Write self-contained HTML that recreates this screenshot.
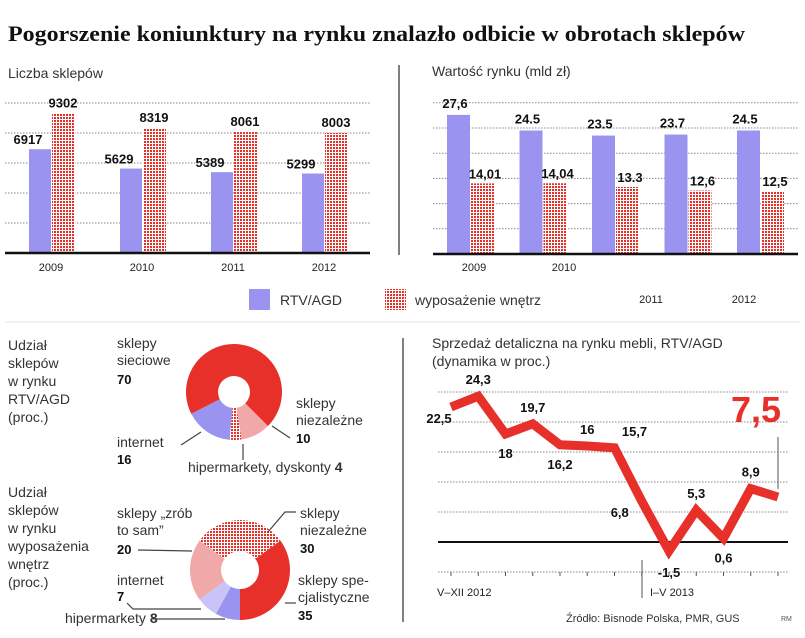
<!DOCTYPE html>
<html><head><meta charset="utf-8">
<style>
html,body{margin:0;padding:0;background:#fff;}
svg{display:block;font-family:"Liberation Sans",sans-serif;}
.t{font-size:14px;fill:#333;}
.b{font-weight:bold;font-size:13px;fill:#111;}
.y{font-size:11px;fill:#222;}
</style></head><body>
<svg id="s" width="805" height="638" viewBox="0 0 805 638">
<defs>
<pattern id="dots" width="3" height="3" patternUnits="userSpaceOnUse">
<rect width="3" height="3" fill="#fff"/><rect width="2" height="2" fill="#e8302a"/>
</pattern>
</defs>
<text x="8" y="41" font-family="Liberation Serif,serif" font-weight="bold" font-size="22" fill="#111" textLength="737" lengthAdjust="spacingAndGlyphs">Pogorszenie koniunktury na rynku znalazło odbicie w obrotach sklepów</text>
<text x="8" y="78" class="t">Liczba sklepów</text>
<text x="432" y="76" class="t">Wartość rynku (mld zł)</text>
<line x1="399" y1="65" x2="399" y2="255" stroke="#555" stroke-width="1.5"/>
<line x1="5" y1="322" x2="800" y2="322" stroke="#e4e4e4" stroke-width="1"/>
<line x1="403" y1="338" x2="403" y2="622" stroke="#555" stroke-width="1.5"/>
<g id="g1"></g><g id="g2"></g><g id="g3"></g><g id="g4"></g>
<rect x="249" y="289" width="21" height="21" fill="#9b93f0"/>
<text x="280" y="305" class="t">RTV/AGD</text>
<rect x="385" y="289" width="21" height="21" fill="url(#dots)"/>
<text x="415" y="305" class="t">wyposażenie wnętrz</text>
<g class="t">
<text x="8" y="350">Udział</text><text x="8" y="368">sklepów</text><text x="8" y="386">w rynku</text><text x="8" y="404">RTV/AGD</text><text x="8" y="422">(proc.)</text></g>
<g class="t">
<text x="8" y="497">Udział</text><text x="8" y="515">sklepów</text><text x="8" y="533">w rynku</text><text x="8" y="551">wyposażenia</text><text x="8" y="569">wnętrz</text><text x="8" y="587">(proc.)</text></g>
<g class="t">
<text x="117" y="348">sklepy</text><text x="117" y="365">sieciowe</text><text x="117" y="384" class="b">70</text>
<text x="296" y="408">sklepy</text><text x="296" y="425">niezależne</text><text x="296" y="443" class="b">10</text>
<text x="117" y="447">internet</text><text x="117" y="464" class="b">16</text>
<text x="188" y="472">hipermarkety, dyskonty <tspan font-weight="bold">4</tspan></text>
</g>
<g fill="none" stroke="#444" stroke-width="1.2">
<path d="M181 445 L201 432"/><path d="M290 438 L272 426"/><path d="M243 460 L243 444"/></g>
<g class="t">
<text x="117" y="518">sklepy „zrób</text><text x="117" y="535">to sam”</text><text x="117" y="554" class="b">20</text>
<text x="300" y="518">sklepy</text><text x="300" y="535">niezależne</text><text x="300" y="553" class="b">30</text>
<text x="117" y="585">internet</text><text x="117" y="601" class="b">7</text>
<text x="65" y="623">hipermarkety <tspan font-weight="bold">8</tspan></text>
<text x="298" y="585">sklepy spe-</text><text x="298" y="602">cjalistyczne</text><text x="298" y="620" class="b">35</text>
</g>
<g fill="none" stroke="#444" stroke-width="1.2">
<path d="M138 550 L192 551"/><path d="M296 512 L285 512 L268 532"/><path d="M127 603 L133 609 L201 609"/><path d="M153 619 L225 619"/><path d="M296 603 L285 603"/></g>
<text x="432" y="348" class="t">Sprzedaż detaliczna na rynku mebli, RTV/AGD</text>
<text x="432" y="366" class="t">(dynamika w proc.)</text>
<text x="437" y="596" class="y" font-size="12">V–XII 2012</text>
<text x="650" y="596" class="y" font-size="12">I–V 2013</text>
<line x1="642" y1="560" x2="642" y2="598" stroke="#555" stroke-width="1"/>
<text x="566" y="622" font-size="11" fill="#333">Źródło: Bisnode Polska, PMR, GUS</text>
<text x="781" y="621" font-size="7" fill="#555">RM</text>
</svg>
<script>
const NS='http://www.w3.org/2000/svg';
function mk(p,tag,a){const e=document.createElementNS(NS,tag);for(const k in a)e.setAttribute(k,a[k]);p.appendChild(e);return e;}
const c1Years=['2009','2010','2011','2012'];
const c1Rtv=[6917,5629,5389,5299];
const c1Wyp=[9302,8319,8061,8003];
const c1Grid=[2000,4000,6000,8000,10000];
const c2Rtv=[27.6,24.5,23.5,23.7,24.5];
const c2Wyp=[14.01,14.04,13.3,12.6,12.5];
const c2Lbl=['27,6','24.5','23.5','23.7','24.5'];
const c2WLbl=['14,01','14,04','13.3','12,6','12,5'];
const c2Grid=[5,10,15,20,25,30];
const c2Years=['2009','2010','2011','2012'];
const p1Vals=[10,4,16,70];
const p1Names=['niezalezne','hipermarkety','internet','sieciowe'];
const p2Vals=[35,8,7,20,30];
const p2Names=['specjalistyczne','hipermarkety','internet','zrob-to-sam','niezalezne'];
const lnVals=[22.5,24.3,18,19.7,16.2,16,15.7,6.8,-1.5,5.3,0.6,8.9,7.5];
const lnLbls=['22,5','24,3','18','19,7','16,2','16','15,7','6,8','-1,5','5,3','0,6','8,9',''];
const lnGrid=[5,10,15,20,25];

const g1=document.getElementById('g1');
const y1=v=>253-v*0.015;
c1Grid.forEach(v=>{const l=mk(g1,'line',{x1:5,x2:370,y1:y1(v),y2:y1(v),stroke:'#888','stroke-dasharray':'1.5 1.5'});

});
c1Years.forEach((yr,i)=>{const x=29+i*91;
const r=mk(g1,'rect',{x:x,y:y1(c1Rtv[i]),width:22,height:253-y1(c1Rtv[i]),fill:'#9b93f0'});


const w=mk(g1,'rect',{x:x+23,y:y1(c1Wyp[i]),width:23,height:253-y1(c1Wyp[i]),fill:'url(#dots)'});


const t1=mk(g1,'text',{x:x-1,y:y1(c1Rtv[i])-5,'text-anchor':'middle',class:'b'});t1.textContent=c1Rtv[i];


const t2=mk(g1,'text',{x:x+34,y:y1(c1Wyp[i])-6,'text-anchor':'middle',class:'b'});t2.textContent=c1Wyp[i];


const t3=mk(g1,'text',{x:x+22,y:271,'text-anchor':'middle',class:'y'});t3.textContent=yr;

});
const b1=mk(g1,'line',{x1:5,x2:370,y1:253,y2:253,stroke:'#111','stroke-width':2.5});



const g2=document.getElementById('g2');
const y2=v=>254-v*5.04;
c2Grid.forEach(v=>{const l=mk(g2,'line',{x1:433,x2:798,y1:y2(v),y2:y2(v),stroke:'#888','stroke-dasharray':'1.5 1.5'});

});
c2Rtv.forEach((v,i)=>{const x=447+i*72.5;
const r=mk(g2,'rect',{x:x,y:y2(v),width:23,height:254-y2(v),fill:'#9b93f0'});


const w=mk(g2,'rect',{x:x+24,y:y2(c2Wyp[i]),width:23,height:254-y2(c2Wyp[i]),fill:'url(#dots)'});


const t1=mk(g2,'text',{x:x+8,y:y2(v)-7,'text-anchor':'middle',class:'b'});t1.textContent=c2Lbl[i];


const t2=mk(g2,'text',{x:x+38,y:y2(c2Wyp[i])-5,'text-anchor':'middle',class:'b'});t2.textContent=c2WLbl[i];

});
[[474,271],[564,271],[651,303],[744,303]].forEach((p,i)=>{const t=mk(g2,'text',{x:p[0],y:p[1],'text-anchor':'middle',class:'y'});t.textContent=c2Years[i];

});
const b2=mk(g2,'line',{x1:433,x2:798,y1:254,y2:254,stroke:'#111','stroke-width':2.5});



function donut(g,cx,cy,R,r,vals,start,fills,names,prefix){
 const tot=vals.reduce((a,b)=>a+b,0);let a=start;
 vals.forEach((v,i)=>{const a2=a+v/tot*360;
  const P=(ang,rad)=>{const t=(ang-90)*Math.PI/180;return [cx+rad*Math.cos(t),cy+rad*Math.sin(t)];};
  const la=(a2-a)>180?1:0;const p1=P(a,R),p2=P(a2,R),p3=P(a2,r),p4=P(a,r);
  const e=mk(g,'path',{d:`M${p1} A${R} ${R} 0 ${la} 1 ${p2} L${p3} A${r} ${r} 0 ${la} 0 ${p4}Z`,fill:fills[i]});
  
  
  a=a2;});
}
donut(document.getElementById('g3'),234,392,48,16,p1Vals,135,['#f0a8a8','url(#dots)','#9b93f0','#e8302a'],p1Names,'pie1');
donut(document.getElementById('g3'),240,570,50,19,p2Vals,54,['#e8302a','#9b93f0','#c8c4f8','#f0a8a8','url(#dots)'],p2Names,'pie2');

const g4=document.getElementById('g4');
const ly=v=>542-v*6;const lx=i=>451+i*27.25;
lnGrid.forEach(v=>{const l=mk(g4,'line',{x1:438,x2:788,y1:ly(v),y2:ly(v),stroke:'#888','stroke-dasharray':'1.5 1.5'});

});
const bl=mk(g4,'line',{x1:438,x2:788,y1:572,y2:572,stroke:'#888','stroke-dasharray':'1.5 1.5'});


lnVals.forEach((v,i)=>{const k=mk(g4,'line',{x1:lx(i),x2:lx(i),y1:572,y2:576,stroke:'#555'});

});
const z=mk(g4,'line',{x1:438,x2:788,y1:ly(0),y2:ly(0),stroke:'#111','stroke-width':2});


const pl=mk(g4,'polyline',{points:lnVals.map((v,i)=>lx(i)+','+ly(v)).join(' '),fill:'none',stroke:'#e8302a','stroke-width':9,'stroke-linejoin':'miter','stroke-linecap':'butt'});


const off=[[-12,16],[0,-12],[0,24],[0,-12],[0,24],[0,-12],[20,-12],[-22,16],[0,26],[0,-12],[0,24],[0,-12]];
lnLbls.forEach((t,i)=>{if(!t)return;const e=mk(g4,'text',{x:lx(i)+off[i][0],y:ly(lnVals[i])+off[i][1],'text-anchor':'middle',class:'b'});e.textContent=t;

});
const n=lnVals.length-1;
const big=mk(g4,'text',{x:lx(n)-22,y:ly(lnVals[n])-75,'text-anchor':'middle','font-weight':'bold','font-size':36,fill:'#e8302a'});big.textContent=String(lnVals[n]).replace('.',',');


const ptr=mk(g4,'line',{x1:lx(n),x2:lx(n),y1:ly(lnVals[n])-60,y2:ly(lnVals[n])-8,stroke:'#555'});


</script>
</body></html>
